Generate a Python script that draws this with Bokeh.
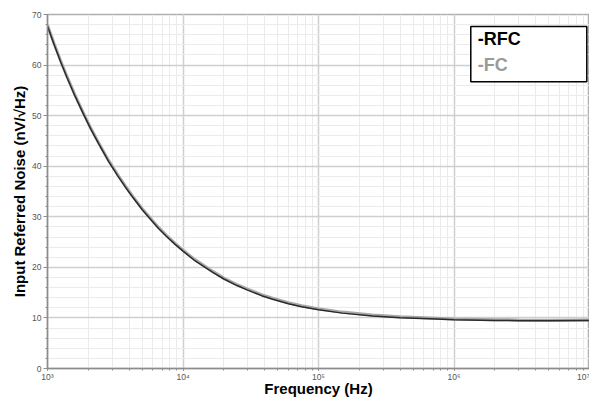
import numpy as np
from bokeh.plotting import figure
from bokeh.models import (Range1d, LogTicker, SingleIntervalTicker, CustomJSTickFormatter,
                          BoxAnnotation, Label)
from bokeh.embed import file_html
from bokeh.resources import INLINE

# Data
freq = [1000, 1120, 1260, 1400, 1600, 1850, 2100, 2400, 2830, 3300, 3750, 4300, 5000,
        5710, 6600, 7500, 8700, 10000, 12000, 14000, 16600, 20000, 25000, 30000, 38000,
        45900, 60000, 75000, 100000, 150000, 250000, 400000, 740000, 1000000, 2000000,
        3000000, 5000000, 10000000]
rfc = [67.7, 64.0, 60.4, 57.4, 53.8, 50.2, 47.2, 44.3, 40.9, 38.1, 35.9, 33.7, 31.4,
       29.6, 27.7, 26.2, 24.6, 23.2, 21.5, 20.3, 19.0, 17.7, 16.4, 15.5, 14.4,
       13.7, 12.8, 12.2, 11.6, 10.95, 10.4, 10.05, 9.8, 9.65, 9.5,
       9.45, 9.45, 9.5]
fc = [67.9, 64.2, 60.6, 57.6, 54.0, 50.4, 47.4, 44.5, 41.1, 38.3, 36.1, 33.9, 31.6,
      29.8, 27.9, 26.4, 24.8, 23.4, 21.7, 20.5, 19.2, 17.9, 16.6, 15.7, 14.6,
      13.9, 13.0, 12.4, 11.8, 11.15, 10.6, 10.25, 9.95, 9.8, 9.65,
      9.6, 9.55, 9.6]

legend_labels = ["-RFC", "-FC"]

p = figure(width=589, height=399, x_axis_type="log", output_backend="svg",
           toolbar_location=None,
           x_range=Range1d(1e3, 1e7), y_range=Range1d(0, 70),
           min_border_left=47, min_border_right=0, min_border_top=14, min_border_bottom=28)

p.outline_line_color = "#b0b0b0"
p.outline_line_width = 1.5
p.background_fill_color = "white"

# grids
p.xaxis.ticker = LogTicker(num_minor_ticks=10)
p.yaxis.ticker = SingleIntervalTicker(interval=10, num_minor_ticks=5)
for g in (p.xgrid, p.ygrid):
    g.grid_line_color = "#cfcfcf"
    g.grid_line_width = 1.5
    g.minor_grid_line_color = "#ebebeb"
    g.minor_grid_line_width = 1

p.line(freq, fc, line_color="#a8a8a8", line_width=3)
p.line(freq, rfc, line_color="#2a2a2a", line_width=1.5)

p.xaxis.formatter = CustomJSTickFormatter(code="""
const sup = {'0':'\u2070','1':'\u00b9','2':'\u00b2','3':'\u00b3','4':'\u2074',
             '5':'\u2075','6':'\u2076','7':'\u2077','8':'\u2078','9':'\u2079','-':'\u207b'};
const e = String(Math.round(Math.log10(tick)));
return '10' + e.split('').map(c => sup[c]).join('');
""")

for ax in (p.xaxis[0], p.yaxis[0]):
    ax.axis_line_color = "#8c8c8c"
    ax.axis_line_width = 1.5
    ax.major_tick_line_color = "#8c8c8c"
    ax.minor_tick_line_color = "#8c8c8c"
    ax.major_tick_out = 4
    ax.major_tick_in = 0
    ax.minor_tick_out = 2
    ax.minor_tick_in = 0
    ax.major_label_text_font = "Liberation Sans"
    ax.major_label_text_font_size = "8.5px"
    ax.major_label_text_color = "#555555"
    ax.major_label_standoff = 2
    ax.axis_label_text_font = "Liberation Sans"
    ax.axis_label_text_font_style = "bold"
    ax.axis_label_text_color = "black"

p.xaxis.major_tick_out = 2
p.xaxis.major_label_standoff = 1
p.xaxis.axis_label = "Frequency (Hz)"
p.xaxis.axis_label_text_font_size = "15px"
p.xaxis.axis_label_standoff = -5
p.yaxis.axis_label = "Input Referred Noise (nV/\u221aHz)"
p.yaxis.axis_label_text_font_size = "15px"
p.yaxis.axis_label_standoff = 1

# legend box (drawn as annotations)
box = BoxAnnotation(left=1.33e6, right=9.55e6, bottom=56.7, top=67.65,
                    fill_color="white", fill_alpha=1.0,
                    line_color="black", line_width=1.5, line_alpha=1.0)
p.add_layout(box)
p.add_layout(Label(x=1.5e6, y=63.2, text=legend_labels[0], text_font="Liberation Sans",
                   text_font_style="bold", text_font_size="18px", text_color="black"))
p.add_layout(Label(x=1.5e6, y=58.1, text=legend_labels[1], text_font="Liberation Sans",
                   text_font_style="bold", text_font_size="18px", text_color="#9a9a9a"))

open("out.html", "w").write(file_html(p, INLINE))
